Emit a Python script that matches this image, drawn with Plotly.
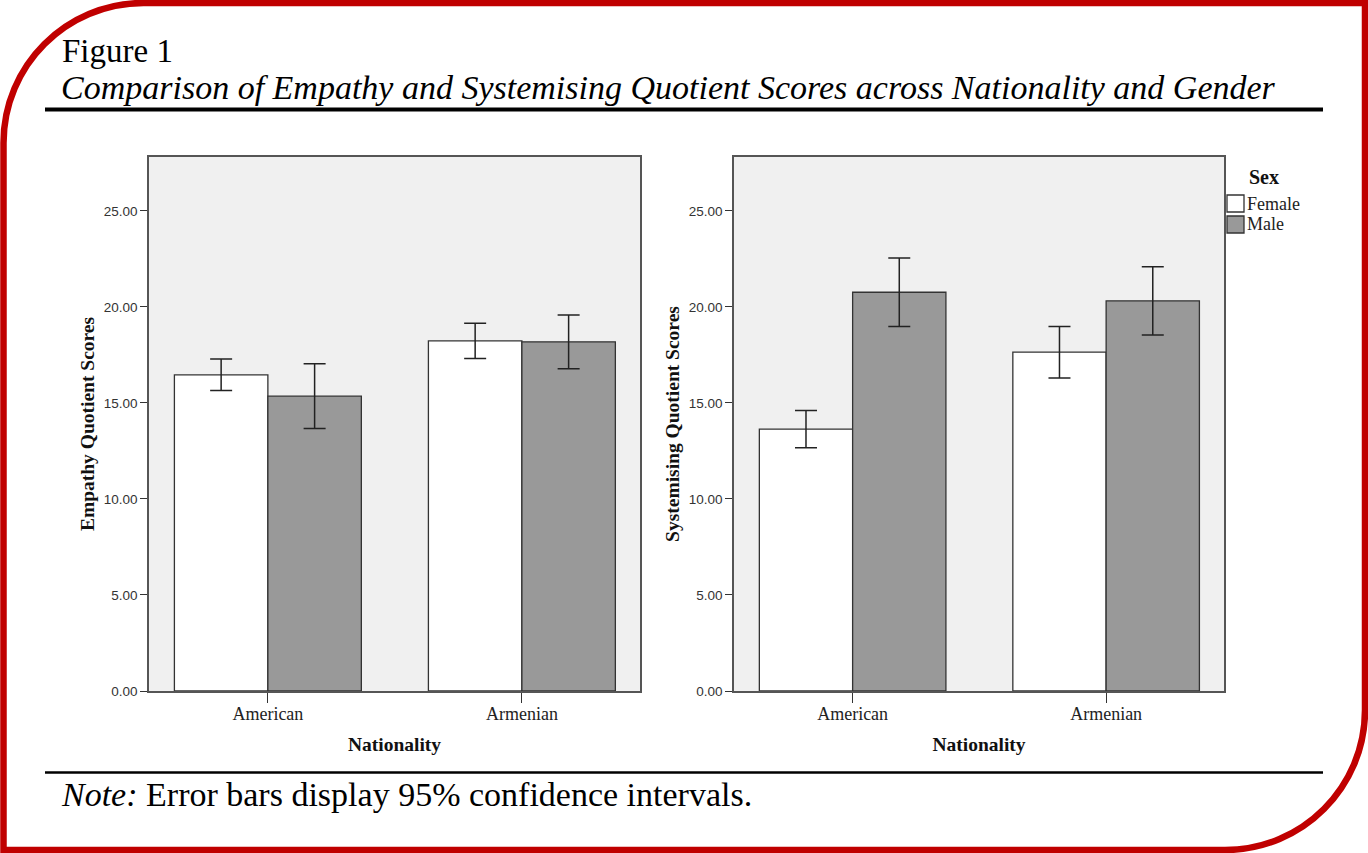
import plotly.graph_objects as go

# Figure size in px; layout below is placed in pixels and converted to paper
W, H = 1368, 853

nationality = ["American", "Armenian"]
sexes = ["Female", "Male"]

# Empathy Quotient: group means and 95% CI half-widths
eq_female = [16.46, 18.23]
eq_female_ci = [0.82, 0.92]
eq_male = [15.35, 18.18]
eq_male_ci = [1.69, 1.40]

# Systemising Quotient: group means and 95% CI half-widths
sq_female = [13.63, 17.64]
sq_female_ci = [0.97, 1.34]
sq_male = [20.76, 20.31]
sq_male_ci = [1.78, 1.78]

y_ticks = [0, 5, 10, 15, 20, 25]

SERIF = "Liberation Serif"
SANS = "Liberation Sans"
RED = "#C00000"
sex_colors = {"Female": "#FFFFFF", "Male": "#999999"}


def px(x):
    return x / W


def py(y):
    return 1 - y / H


fig = go.Figure()

panels = [
    ("x", "y", eq_female, eq_female_ci, eq_male, eq_male_ci),
    ("x2", "y2", sq_female, sq_female_ci, sq_male, sq_male_ci),
]
for xa, ya, f, fci, m, mci in panels:
    for sex, vals, ci in [("Female", f, fci), ("Male", m, mci)]:
        fig.add_trace(go.Bar(
            x=nationality, y=vals, name=sex,
            marker=dict(color=sex_colors[sex], line=dict(color="#333333", width=1.3)),
            error_y=dict(type="data", array=ci, color="#222222", thickness=1.5, width=11),
            xaxis=xa, yaxis=ya, showlegend=False,
        ))


def x_axis(domain, anchor):
    return dict(
        domain=domain, anchor=anchor, range=[-0.468, 1.465],
        showline=True, mirror=True, linecolor="#555555", linewidth=1.5,
        ticks="outside", ticklen=10, tickcolor="#333333", tickwidth=1.3,
        tickfont=dict(family=SERIF, size=18, color="#222222"),
        ticklabelstandoff=-4,
        showgrid=False, zeroline=False, automargin=False,
        title=dict(text="Nationality", standoff=14,
                   font=dict(family=SERIF, size=19.5, color="#111111", weight="bold")),
    )


def y_axis(domain, anchor, title):
    return dict(
        domain=domain, anchor=anchor, range=[0, 27.8],
        tickvals=y_ticks, tickformat=".2f",
        showline=True, mirror=True, linecolor="#555555", linewidth=1.5,
        ticks="outside", ticklen=7, tickcolor="#333333", tickwidth=1.3,
        tickfont=dict(family=SANS, size=13.5, color="#333333"),
        showgrid=False, zeroline=False, automargin=False,
        title=dict(text=title, standoff=4,
                   font=dict(family=SERIF, size=19.5, color="#111111", weight="bold")),
    )


y_dom = [py(691), py(157)]

shapes = []
# red rounded frame (top-left and bottom-right corners rounded)
r = 140
k = 0.5523 * r
L, T, R, B = 3.5, 3, 1365, 850
pts = (
    f"M {px(L)},{py(B)} L {px(L)},{py(T + r)} "
    f"C {px(L)},{py(T + r - k)} {px(L + r - k)},{py(T)} {px(L + r)},{py(T)} "
    f"L {px(R)},{py(T)} L {px(R)},{py(B - r)} "
    f"C {px(R)},{py(B - r + k)} {px(R - r + k)},{py(B)} {px(R - r)},{py(B)} Z"
)
shapes.append(dict(type="path", path=pts, xref="paper", yref="paper",
                   line=dict(color=RED, width=6.5)))
# rules under title and above the note
shapes.append(dict(type="line", xref="paper", yref="paper",
                   x0=px(45), x1=px(1323), y0=py(109.5), y1=py(109.5),
                   line=dict(color="black", width=4)))
shapes.append(dict(type="line", xref="paper", yref="paper",
                   x0=px(45), x1=px(1323), y0=py(772.5), y1=py(772.5),
                   line=dict(color="black", width=2.5)))
# legend swatches
for sex, (y0, y1) in zip(sexes, [(195, 212), (216, 233)]):
    shapes.append(dict(type="rect", xref="paper", yref="paper",
                       x0=px(1227), x1=px(1244), y0=py(y1), y1=py(y0),
                       fillcolor=sex_colors[sex], line=dict(color="#333333", width=1.3)))

annotations = [
    dict(text="Figure 1", x=px(60), y=py(51), xanchor="left", yanchor="middle",
         font=dict(family=SERIF, size=33, color="black")),
    dict(text="<i>Comparison of Empathy and Systemising Quotient Scores across Nationality and Gender</i>",
         x=px(59), y=py(88), xanchor="left", yanchor="middle",
         font=dict(family=SERIF, size=34, color="black")),
    dict(text="<i>Note:</i> Error bars display 95% confidence intervals.",
         x=px(59), y=py(794), xanchor="left", yanchor="middle",
         font=dict(family=SERIF, size=34, color="black")),
    dict(text="Sex", x=px(1247), y=py(177), xanchor="left", yanchor="middle",
         font=dict(family=SERIF, size=20, color="#111111", weight="bold")),
]
for sex, yc in zip(sexes, [203.5, 224.5]):
    annotations.append(dict(text=sex, x=px(1245), y=py(yc), xanchor="left", yanchor="middle",
                            font=dict(family=SERIF, size=18, color="#222222")))
for a in annotations:
    a.update(xref="paper", yref="paper", showarrow=False)

fig.update_layout(
    width=W, height=H,
    margin=dict(l=0, r=0, t=0, b=0),
    paper_bgcolor="white", plot_bgcolor="#F0F0F0",
    barmode="group", bargap=0.264, bargroupgap=0,
    xaxis=x_axis([px(149), px(640)], "y"),
    yaxis=y_axis(y_dom, "x", "Empathy Quotient Scores"),
    xaxis2=x_axis([px(734), px(1224)], "y2"),
    yaxis2=y_axis(y_dom, "x2", "Systemising Quotient Scores"),
    shapes=shapes, annotations=annotations,
    showlegend=False,
)

# drop the browser's default body margin so the figure fills the window
fig.write_html("out.html", config={"displayModeBar": False},
               post_script="document.body.style.margin = '0';")
